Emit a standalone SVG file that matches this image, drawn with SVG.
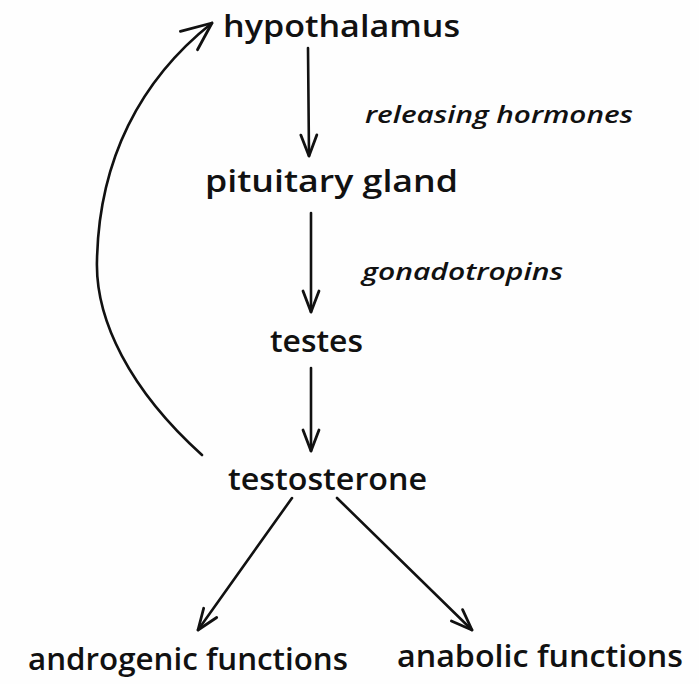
<svg xmlns="http://www.w3.org/2000/svg" width="699" height="684" viewBox="0 0 699 684">
  <defs>
    <style>
      .lbl { font-family: "Open Sans", "DejaVu Sans", sans-serif; font-size: 30px; font-weight: 600; fill: #111; }
      .edge-lbl { font-family: "Open Sans", "DejaVu Sans", sans-serif; font-size: 24px; font-style: italic; font-weight: 600; fill: #111; }
      .conn { fill: none; stroke: #111; stroke-width: 2.6; stroke-linecap: round; }
      .head { fill: none; stroke: #111; stroke-width: 2.8; stroke-linecap: round; stroke-linejoin: round; }
    </style>
    <marker id="arrow" markerUnits="userSpaceOnUse" viewBox="-26 -12 30 24" markerWidth="30" markerHeight="24" refX="0" refY="0" orient="auto">
      <path class="head" d="M-21,-8 L0,0 L-21,8"/>
    </marker>
    <marker id="arrowLg" markerUnits="userSpaceOnUse" viewBox="-34 -18 38 36" markerWidth="38" markerHeight="36" refX="0" refY="0" orient="auto">
      <path class="head" d="M-30,-13 L0,0 L-28,12"/>
    </marker>
  </defs>
  <rect width="699" height="684" fill="#fefefe"/>

  <g id="connectors">
    <path class="conn" d="M308,48 L309,156" marker-end="url(#arrow)"/>
    <path class="conn" d="M311,213 L311,312" marker-end="url(#arrow)"/>
    <path class="conn" d="M311,368 L311,451" marker-end="url(#arrow)"/>
    <path class="conn" d="M202,455 C130,390 95,320 97,260 C99,160 140,80 212,23" marker-end="url(#arrowLg)"/>
    <path class="conn" d="M292,498 L198,630" marker-end="url(#arrow)"/>
    <path class="conn" d="M337,498 L472,630" marker-end="url(#arrow)"/>
  </g>

  <g id="hypothalamus">
    <text class="lbl" x="223" y="37" textLength="237" lengthAdjust="spacingAndGlyphs">hypothalamus</text>
  </g>
  <g id="label-releasing-hormones">
    <text class="edge-lbl" x="365" y="123" textLength="268" lengthAdjust="spacingAndGlyphs">releasing hormones</text>
  </g>
  <g id="pituitary-gland">
    <text class="lbl" x="205" y="192" textLength="253" lengthAdjust="spacingAndGlyphs">pituitary gland</text>
  </g>
  <g id="label-gonadotropins">
    <text class="edge-lbl" x="362" y="280" textLength="201" lengthAdjust="spacingAndGlyphs">gonadotropins</text>
  </g>
  <g id="testes">
    <text class="lbl" x="270" y="352" textLength="93" lengthAdjust="spacingAndGlyphs">testes</text>
  </g>
  <g id="testosterone">
    <text class="lbl" x="228" y="490" textLength="199" lengthAdjust="spacingAndGlyphs">testosterone</text>
  </g>
  <g id="androgenic-functions">
    <text class="lbl" x="28" y="670" textLength="320" lengthAdjust="spacingAndGlyphs">androgenic functions</text>
  </g>
  <g id="anabolic-functions">
    <text class="lbl" x="397" y="667" textLength="286" lengthAdjust="spacingAndGlyphs">anabolic functions</text>
  </g>
</svg>
